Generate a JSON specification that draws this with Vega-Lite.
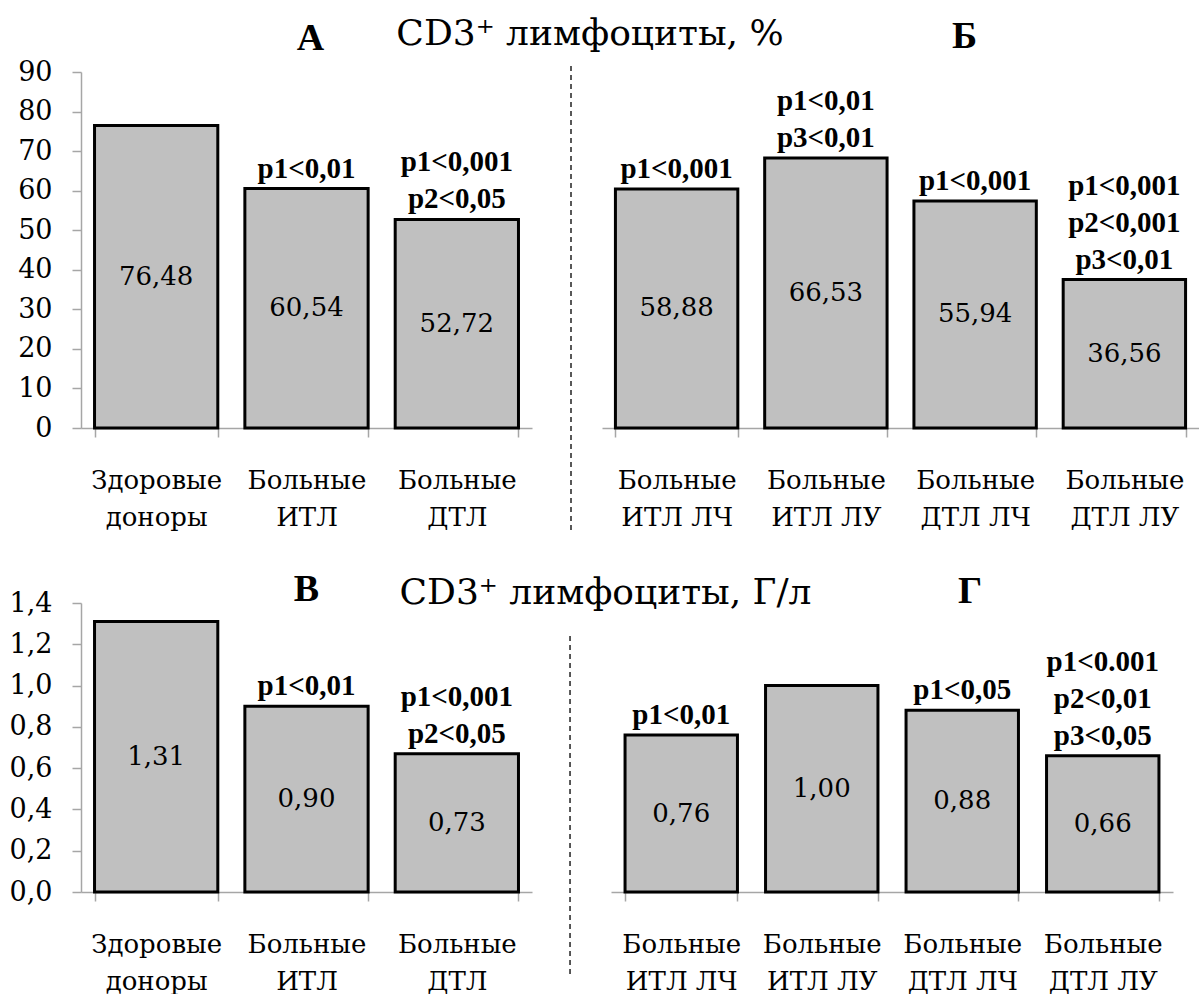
{
  "$schema": "https://vega.github.io/schema/vega-lite/v6.json",
  "padding": {"left": 6, "top": 16, "right": 0, "bottom": 0},
  "background": "white",
  "config": {
    "font": "DejaVu Serif",
    "view": {"stroke": null},
    "axis": {"domainColor": "#a6a6a6", "tickColor": "#a6a6a6", "domainWidth": 1.5, "tickWidth": 1.5, "tickSize": 9, "grid": false, "title": null, "labelColor": "#000", "labelFont": "DejaVu Serif"},
    "axisY": {"labelFontSize": 27, "labelPadding": 20, "minExtent": 75, "maxExtent": 75},
    "text": {"font": "DejaVu Serif", "color": "#000"},
    "title": {"fontSize": 38, "frame": "group", "baseline": "alphabetic", "color": "#000", "font": "Liberation Serif", "anchor": "middle"}
  },
  "datasets": {
    "a": [
      {"group": "Здоровые доноры", "value": 76.48, "label": "76,48", "l1": "", "l2": "", "l3": ""},
      {"group": "Больные ИТЛ", "value": 60.54, "label": "60,54", "l1": "p1<0,01", "l2": "", "l3": ""},
      {"group": "Больные ДТЛ", "value": 52.72, "label": "52,72", "l1": "p2<0,05", "l2": "p1<0,001", "l3": ""}
    ],
    "b": [
      {"group": "Больные ИТЛ ЛЧ", "value": 58.88, "label": "58,88", "l1": "p1<0,001", "l2": "", "l3": ""},
      {"group": "Больные ИТЛ ЛУ", "value": 66.53, "label": "66,53", "l1": "p3<0,01", "l2": "p1<0,01", "l3": ""},
      {"group": "Больные ДТЛ ЛЧ", "value": 55.94, "label": "55,94", "l1": "p1<0,001", "l2": "", "l3": ""},
      {"group": "Больные ДТЛ ЛУ", "value": 36.56, "label": "36,56", "l1": "p3<0,01", "l2": "p2<0,001", "l3": "p1<0,001"}
    ],
    "c": [
      {"group": "Здоровые доноры", "value": 1.31, "label": "1,31", "l1": "", "l2": "", "l3": ""},
      {"group": "Больные ИТЛ", "value": 0.90, "label": "0,90", "l1": "p1<0,01", "l2": "", "l3": ""},
      {"group": "Больные ДТЛ", "value": 0.67, "label": "0,73", "l1": "p2<0,05", "l2": "p1<0,001", "l3": ""}
    ],
    "d": [
      {"group": "Больные ИТЛ ЛЧ", "value": 0.76, "label": "0,76", "l1": "p1<0,01", "l2": "", "l3": ""},
      {"group": "Больные ИТЛ ЛУ", "value": 1.00, "label": "1,00", "l1": "", "l2": "", "l3": ""},
      {"group": "Больные ДТЛ ЛЧ", "value": 0.88, "label": "0,88", "l1": "p1<0,05", "l2": "", "l3": ""},
      {"group": "Больные ДТЛ ЛУ", "value": 0.66, "label": "0,66", "l1": "p3<0,05", "l2": "p2<0,01", "l3": "p1<0.001"}
    ]
  },
  "spacing": 40,
  "vconcat": [
    {
      "hconcat": [
        {
          "width": 451, "height": 356,
          "title": {"text": "А", "fontWeight": "bold", "dx": 4, "offset": 0},
          "data": {"name": "a"},
          "encoding": {"x": {"field": "group", "type": "nominal", "sort": null, "scale": {"paddingInner": 0.18, "paddingOuter": 0.09},
            "axis": {"labelAngle": 0, "tickBand": "extent", "labelFontSize": 26, "labelPadding": 30, "labelBaseline": "top", "labelLineHeight": 37, "labelOverlap": false, "labelLimit": 0, "labelExpr": "[slice(datum.label, 0, indexof(datum.label, ' ')), slice(datum.label, indexof(datum.label, ' ') + 1)]"}}},
          "layer": [
            {"mark": {"type": "bar", "fill": "#c0c0c0", "stroke": "#000", "strokeWidth": 3},
             "encoding": {"y": {"field": "value", "type": "quantitative", "scale": {"domain": [0, 90], "nice": false}, "axis": {"values": [0, 10, 20, 30, 40, 50, 60, 70, 80, 90]}}}},
            {"transform": [{"filter": "datum.l1 != ''"}],
             "mark": {"type": "text", "baseline": "bottom", "dy": -5, "fontWeight": "bold", "fontSize": 29, "font": "Liberation Serif"},
             "encoding": {"y": {"field": "value", "type": "quantitative", "scale": {"domain": [0, 90], "nice": false}, "axis": null}, "text": {"field": "l1"}}},
            {"transform": [{"filter": "datum.l2 != ''"}],
             "mark": {"type": "text", "baseline": "bottom", "dy": -42, "fontWeight": "bold", "fontSize": 29, "font": "Liberation Serif"},
             "encoding": {"y": {"field": "value", "type": "quantitative", "scale": {"domain": [0, 90], "nice": false}, "axis": null}, "text": {"field": "l2"}}},
            {"mark": {"type": "text", "baseline": "middle", "fontSize": 26},
             "encoding": {"y": {"field": "value", "type": "quantitative", "scale": {"domain": [0, 180], "nice": false}, "axis": null}, "text": {"field": "label"}}}
          ],
          "resolve": {"scale": {"y": "independent"}}
        },
        {
          "width": 50, "height": 458,
          "title": {"text": "CD3⁺ лимфоциты, %", "fontWeight": "normal", "font": "DejaVu Serif", "fontSize": 36, "dx": 23, "offset": 9},
          "data": {"values": [{}]},
          "mark": {"type": "rule", "strokeDash": [5, 4], "color": "#222", "strokeWidth": 1.5},
          "encoding": {
            "x": {"datum": 0.58, "type": "quantitative", "scale": {"domain": [0, 1]}, "axis": null},
            "y": {"datum": 0, "type": "quantitative", "scale": {"domain": [0, 1], "nice": false}, "axis": null},
            "y2": {"datum": 1.02}
          }
        },
        {
          "width": 597, "height": 356,
          "title": {"text": "Б", "fontWeight": "bold", "dx": 64, "offset": 16},
          "data": {"name": "b"},
          "encoding": {"x": {"field": "group", "type": "nominal", "sort": null, "scale": {"paddingInner": 0.18, "paddingOuter": 0.09},
            "axis": {"labelAngle": 0, "tickBand": "extent", "labelFontSize": 26, "labelPadding": 30, "labelBaseline": "top", "labelLineHeight": 37, "labelOverlap": false, "labelLimit": 0, "labelExpr": "[slice(datum.label, 0, indexof(datum.label, ' ')), slice(datum.label, indexof(datum.label, ' ') + 1)]"}}},
          "layer": [
            {"mark": {"type": "bar", "fill": "#c0c0c0", "stroke": "#000", "strokeWidth": 3},
             "encoding": {"y": {"field": "value", "type": "quantitative", "scale": {"domain": [0, 87.7], "nice": false}, "axis": null}}},
            {"transform": [{"filter": "datum.l1 != ''"}],
             "mark": {"type": "text", "baseline": "bottom", "dy": -5, "fontWeight": "bold", "fontSize": 29, "font": "Liberation Serif"},
             "encoding": {"y": {"field": "value", "type": "quantitative", "scale": {"domain": [0, 87.7], "nice": false}, "axis": null}, "text": {"field": "l1"}}},
            {"transform": [{"filter": "datum.l2 != ''"}],
             "mark": {"type": "text", "baseline": "bottom", "dy": -42, "fontWeight": "bold", "fontSize": 29, "font": "Liberation Serif"},
             "encoding": {"y": {"field": "value", "type": "quantitative", "scale": {"domain": [0, 87.7], "nice": false}, "axis": null}, "text": {"field": "l2"}}},
            {"transform": [{"filter": "datum.l3 != ''"}],
             "mark": {"type": "text", "baseline": "bottom", "dy": -79, "fontWeight": "bold", "fontSize": 29, "font": "Liberation Serif"},
             "encoding": {"y": {"field": "value", "type": "quantitative", "scale": {"domain": [0, 87.7], "nice": false}, "axis": null}, "text": {"field": "l3"}}},
            {"mark": {"type": "text", "baseline": "middle", "fontSize": 26},
             "encoding": {"y": {"field": "value", "type": "quantitative", "scale": {"domain": [0, 175.4], "nice": false}, "axis": null}, "text": {"field": "label"}}}
          ],
          "resolve": {"scale": {"y": "independent"}}
        }
      ],
      "spacing": 10,
      "bounds": "flush"
    },
    {
      "hconcat": [
        {
          "width": 451, "height": 289,
          "title": {"text": "В", "fontWeight": "bold", "dx": 0, "offset": -20},
          "data": {"name": "c"},
          "encoding": {"x": {"field": "group", "type": "nominal", "sort": null, "scale": {"paddingInner": 0.18, "paddingOuter": 0.09},
            "axis": {"labelAngle": 0, "tickBand": "extent", "labelFontSize": 26, "labelPadding": 30, "labelBaseline": "top", "labelLineHeight": 37, "labelOverlap": false, "labelLimit": 0, "labelExpr": "[slice(datum.label, 0, indexof(datum.label, ' ')), slice(datum.label, indexof(datum.label, ' ') + 1)]"}}},
          "layer": [
            {"mark": {"type": "bar", "fill": "#c0c0c0", "stroke": "#000", "strokeWidth": 3},
             "encoding": {"y": {"field": "value", "type": "quantitative", "scale": {"domain": [0, 1.4], "nice": false}, "axis": {"values": [0, 0.2, 0.4, 0.6, 0.8, 1.0, 1.2, 1.4], "labelExpr": "replace(format(datum.value, '.1f'), '.', ',')"}}}},
            {"transform": [{"filter": "datum.l1 != ''"}],
             "mark": {"type": "text", "baseline": "bottom", "dy": -5, "fontWeight": "bold", "fontSize": 29, "font": "Liberation Serif"},
             "encoding": {"y": {"field": "value", "type": "quantitative", "scale": {"domain": [0, 1.4], "nice": false}, "axis": null}, "text": {"field": "l1"}}},
            {"transform": [{"filter": "datum.l2 != ''"}],
             "mark": {"type": "text", "baseline": "bottom", "dy": -42, "fontWeight": "bold", "fontSize": 29, "font": "Liberation Serif"},
             "encoding": {"y": {"field": "value", "type": "quantitative", "scale": {"domain": [0, 1.4], "nice": false}, "axis": null}, "text": {"field": "l2"}}},
            {"mark": {"type": "text", "baseline": "middle", "fontSize": 26},
             "encoding": {"y": {"field": "value", "type": "quantitative", "scale": {"domain": [0, 2.8], "nice": false}, "axis": null}, "text": {"field": "label"}}}
          ],
          "resolve": {"scale": {"y": "independent"}}
        },
        {
          "width": 59, "height": 371,
          "title": {"text": "CD3⁺ лимфоциты, Г/л", "fontWeight": "normal", "font": "DejaVu Serif", "fontSize": 36, "dx": 34, "offset": -9},
          "data": {"values": [{}]},
          "mark": {"type": "rule", "strokeDash": [5, 4], "color": "#222", "strokeWidth": 1.5},
          "encoding": {
            "x": {"datum": 0.475, "type": "quantitative", "scale": {"domain": [0, 1]}, "axis": null},
            "y": {"datum": 0, "type": "quantitative", "scale": {"domain": [0, 1], "nice": false}, "axis": null},
            "y2": {"datum": 0.919}
          }
        },
        {
          "width": 562, "height": 289,
          "title": {"text": "Г", "fontWeight": "bold", "dx": 78, "offset": -8},
          "data": {"name": "d"},
          "encoding": {"x": {"field": "group", "type": "nominal", "sort": null, "scale": {"paddingInner": 0.2, "paddingOuter": 0.1},
            "axis": {"labelAngle": 0, "tickBand": "extent", "labelFontSize": 26, "labelPadding": 30, "labelBaseline": "top", "labelLineHeight": 37, "labelOverlap": false, "labelLimit": 0, "labelExpr": "[slice(datum.label, 0, indexof(datum.label, ' ')), slice(datum.label, indexof(datum.label, ' ') + 1)]"}}},
          "layer": [
            {"mark": {"type": "bar", "fill": "#c0c0c0", "stroke": "#000", "strokeWidth": 3},
             "encoding": {"y": {"field": "value", "type": "quantitative", "scale": {"domain": [0, 1.4], "nice": false}, "axis": null}}},
            {"transform": [{"filter": "datum.l1 != ''"}],
             "mark": {"type": "text", "baseline": "bottom", "dy": -5, "fontWeight": "bold", "fontSize": 29, "font": "Liberation Serif"},
             "encoding": {"y": {"field": "value", "type": "quantitative", "scale": {"domain": [0, 1.4], "nice": false}, "axis": null}, "text": {"field": "l1"}}},
            {"transform": [{"filter": "datum.l2 != ''"}],
             "mark": {"type": "text", "baseline": "bottom", "dy": -42, "fontWeight": "bold", "fontSize": 29, "font": "Liberation Serif"},
             "encoding": {"y": {"field": "value", "type": "quantitative", "scale": {"domain": [0, 1.4], "nice": false}, "axis": null}, "text": {"field": "l2"}}},
            {"transform": [{"filter": "datum.l3 != ''"}],
             "mark": {"type": "text", "baseline": "bottom", "dy": -79, "fontWeight": "bold", "fontSize": 29, "font": "Liberation Serif"},
             "encoding": {"y": {"field": "value", "type": "quantitative", "scale": {"domain": [0, 1.4], "nice": false}, "axis": null}, "text": {"field": "l3"}}},
            {"mark": {"type": "text", "baseline": "middle", "fontSize": 26},
             "encoding": {"y": {"field": "value", "type": "quantitative", "scale": {"domain": [0, 2.8], "nice": false}, "axis": null}, "text": {"field": "label"}}}
          ],
          "resolve": {"scale": {"y": "independent"}}
        }
      ],
      "spacing": 10,
      "bounds": "flush"
    }
  ]
}
